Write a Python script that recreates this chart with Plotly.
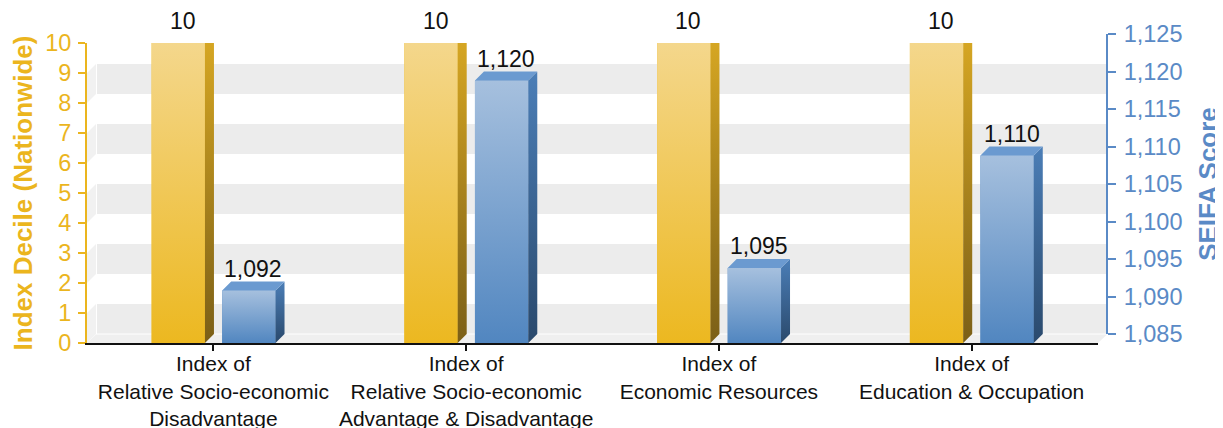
import plotly.graph_objects as go

# ---------------- data ----------------
categories = [
    "Index of<br>Relative Socio-economic<br>Disadvantage",
    "Index of<br>Relative Socio-economic<br>Advantage & Disadvantage",
    "Index of<br>Economic Resources",
    "Index of<br>Education & Occupation",
]
decile = [10, 10, 10, 10]
score = [1092, 1120, 1095, 1110]
decile_ticks = list(range(0, 11))
score_ticks = list(range(1085, 1126, 5))
score_ticktext = [f"{v:,}" for v in score_ticks]

# ---------------- geometry (page pixels) ----------------
W, H = 1223, 428
OFF = 8                        # default body margin of the html page
FW, FH = W - OFF, H - OFF      # figure size
L, R_FRONT = 87, 1098          # front plane, page px
T_FRONT, B_FRONT = 43, 343
DEPTH = 9                      # 3-D depth, px
PW = R_FRONT + DEPTH - L
PH = B_FRONT - (T_FRONT - DEPTH)
N = len(categories)
X_RANGE = [-0.5, N - 0.5]
Y_RANGE = [0, 10]
S_RANGE = [1085, 1125]

ux = (X_RANGE[1] - X_RANGE[0]) / (R_FRONT - L)          # x units per px
dxu = DEPTH * ux
dyu_dec = DEPTH * (Y_RANGE[1] - Y_RANGE[0]) / (B_FRONT - T_FRONT)
dyu_sc = DEPTH * (S_RANGE[1] - S_RANGE[0]) / (B_FRONT - T_FRONT)

BAR_W = 0.211
OFF_Y = -0.2443
OFF_B = 0.0349

YEL = "#EBB51E"
BLU = "#5A8AC6"
TXT = "#111111"
FONT = "Liberation Sans, Arial, sans-serif"

def px(xp):
    return (xp - L) / PW

def py(yp):
    return (B_FRONT - yp) / PH

fig = go.Figure()

# ---------------- background walls (decoration) ----------------
shapes = []
ppu = (B_FRONT - T_FRONT) / (Y_RANGE[1] - Y_RANGE[0])
for k in range(0, 10, 2):
    f0 = B_FRONT - k * ppu
    f1 = B_FRONT - (k + 1) * ppu
    b0, b1 = f0 - DEPTH, f1 - DEPTH
    bot = b0 - (0.5 if k == 0 else 0)
    shapes.append(dict(type="path", xref="paper", yref="paper", layer="below",
                       path=f"M{px(L+DEPTH+1)},{py(bot)} L{px(R_FRONT+DEPTH)},{py(bot)} "
                            f"L{px(R_FRONT+DEPTH)},{py(b1)} L{px(L+DEPTH+1)},{py(b1)} Z",
                       fillcolor="#ECECEC", line=dict(width=0)))
    shapes.append(dict(type="path", xref="paper", yref="paper", layer="below",
                       path=f"M{px(L)},{py(f0)} L{px(L+DEPTH)},{py(b0)} "
                            f"L{px(L+DEPTH)},{py(b1)} L{px(L)},{py(f1)} Z",
                       fillcolor="#F1F1F1", line=dict(width=0)))
# floor
shapes.append(dict(type="path", xref="paper", yref="paper", layer="below",
                   path=f"M{px(L)},{py(B_FRONT)} L{px(R_FRONT)},{py(B_FRONT)} "
                        f"L{px(R_FRONT+DEPTH)},{py(B_FRONT-DEPTH+0.5)} L{px(L+DEPTH)},{py(B_FRONT-DEPTH+0.5)} Z",
                   fillcolor="#EFEFEF", line=dict(width=0)))

# ---------------- bars ----------------
def add_3d(vals, off, yaxis, dyu, base, front_cols, side_cols, top_col, name):
    xs = list(range(N))
    fig.add_trace(go.Bar(x=xs, y=vals, offset=off, width=BAR_W,
                         yaxis=yaxis, marker=dict(color=front_cols[0], line=dict(width=0)),
                         name=name, hoverinfo="skip"))
    tx, ty = [], []
    for i, v in enumerate(vals):
        xl = i + off
        xr = xl + BAR_W
        # front with gradient
        fig.add_trace(go.Scatter(x=[xl, xr, xr, xl, xl], y=[base, base, v, v, base],
                                 yaxis=yaxis, mode="lines", line=dict(width=0),
                                 fill="toself",
                                 fillgradient=dict(type="vertical",
                                                   colorscale=[[0, front_cols[0]], [1, front_cols[1]]]),
                                 hoverinfo="skip", showlegend=False))
        # side
        fig.add_trace(go.Scatter(x=[xr, xr + dxu, xr + dxu, xr, xr],
                                 y=[base, base + dyu, v + dyu, v, base],
                                 yaxis=yaxis, mode="lines", line=dict(width=0),
                                 fill="toself",
                                 fillgradient=dict(type="vertical",
                                                   colorscale=[[0, side_cols[0]], [1, side_cols[1]]]),
                                 hoverinfo="skip", showlegend=False))
        tx += [xl, xl + dxu, xr + dxu, xr, xl, None]
        ty += [v, v + dyu, v + dyu, v, v, None]
    fig.add_trace(go.Scatter(x=tx, y=ty, yaxis=yaxis, mode="lines", line=dict(width=0),
                             fill="toself", fillcolor=top_col, hoverinfo="skip",
                             showlegend=False))

add_3d(decile, OFF_Y, "y", dyu_dec, 0,
       ["#ECB820", "#F4D78C"], ["#7B5F17", "#D8A823"], "#EFC23E", "Index Decile")
add_3d(score, OFF_B, "y2", dyu_sc, S_RANGE[0],
       ["#5186C0", "#A6C0DE"], ["#2A496C", "#4B7EB7"], "#6B9AD0", "SEIFA Score")

# invisible trace so that the back-plane score axis is drawn
fig.add_trace(go.Scatter(x=list(range(N)), y=score, yaxis="y3", mode="markers",
                         marker=dict(opacity=0), hoverinfo="skip", showlegend=False))

# ---------------- value labels ----------------
ann = []
for i, v in enumerate(decile):
    ann.append(dict(x=i + OFF_Y + BAR_W / 2 + dxu / 2, y=v, xref="x", yref="y",
                    text=f"{v:,}", showarrow=False, yanchor="bottom", yshift=DEPTH - 2,
                    font=dict(size=23, color=TXT, family=FONT)))
for i, v in enumerate(score):
    ann.append(dict(x=i + OFF_B + BAR_W / 2 + dxu / 2, y=v, xref="x", yref="y2",
                    text=f"{v:,}", showarrow=False, yanchor="bottom", yshift=DEPTH - 2,
                    font=dict(size=23, color=TXT, family=FONT)))

fig.update_layout(
    width=FW, height=FH,
    margin=dict(l=L - OFF, r=FW - (R_FRONT + DEPTH - OFF), t=T_FRONT - DEPTH - OFF,
                b=FH - (B_FRONT - OFF), pad=0),
    paper_bgcolor="white", plot_bgcolor="rgba(0,0,0,0)",
    showlegend=False, barmode="overlay",
    font=dict(family=FONT),
    shapes=shapes, annotations=ann,
    xaxis=dict(domain=[0, (R_FRONT - L) / PW], range=X_RANGE, tickvals=list(range(N)),
               ticktext=categories, ticks="outside", ticklen=6, tickwidth=1.5,
               tickcolor=TXT, showline=True, linecolor=TXT, linewidth=2,
               showgrid=False, zeroline=False, automargin=False, ticklabelstandoff=-5,
               tickfont=dict(size=21, color=TXT, family=FONT)),
    yaxis=dict(domain=[0, (B_FRONT - T_FRONT) / PH], range=Y_RANGE, tickvals=decile_ticks,
               ticks="outside", ticklen=7, tickwidth=2, tickcolor=YEL,
               showline=True, linecolor=YEL, linewidth=2, showgrid=False, zeroline=False,
               automargin=False, ticklabelstandoff=2,
               tickfont=dict(size=23.5, color=YEL, family=FONT),
               title=dict(text="<b>Index Decile (Nationwide)</b>", standoff=10,
                          font=dict(size=26, color=YEL, family=FONT))),
    yaxis2=dict(overlaying="y", range=S_RANGE, visible=False, showgrid=False),
    yaxis3=dict(anchor="free", position=1, side="right",
                domain=[DEPTH / PH, 1], range=S_RANGE,
                tickvals=score_ticks, ticktext=score_ticktext,
                ticks="outside", ticklen=8, tickwidth=2, tickcolor=BLU,
                showline=True, linecolor=BLU, linewidth=2, showgrid=False, zeroline=False,
                automargin=False, ticklabelstandoff=3,
                tickfont=dict(size=23.5, color=BLU, family=FONT),
                title=dict(text="<b>SEIFA Score</b>", standoff=16,
                           font=dict(size=26, color=BLU, family=FONT))),
)

fig.write_html("out.html")
